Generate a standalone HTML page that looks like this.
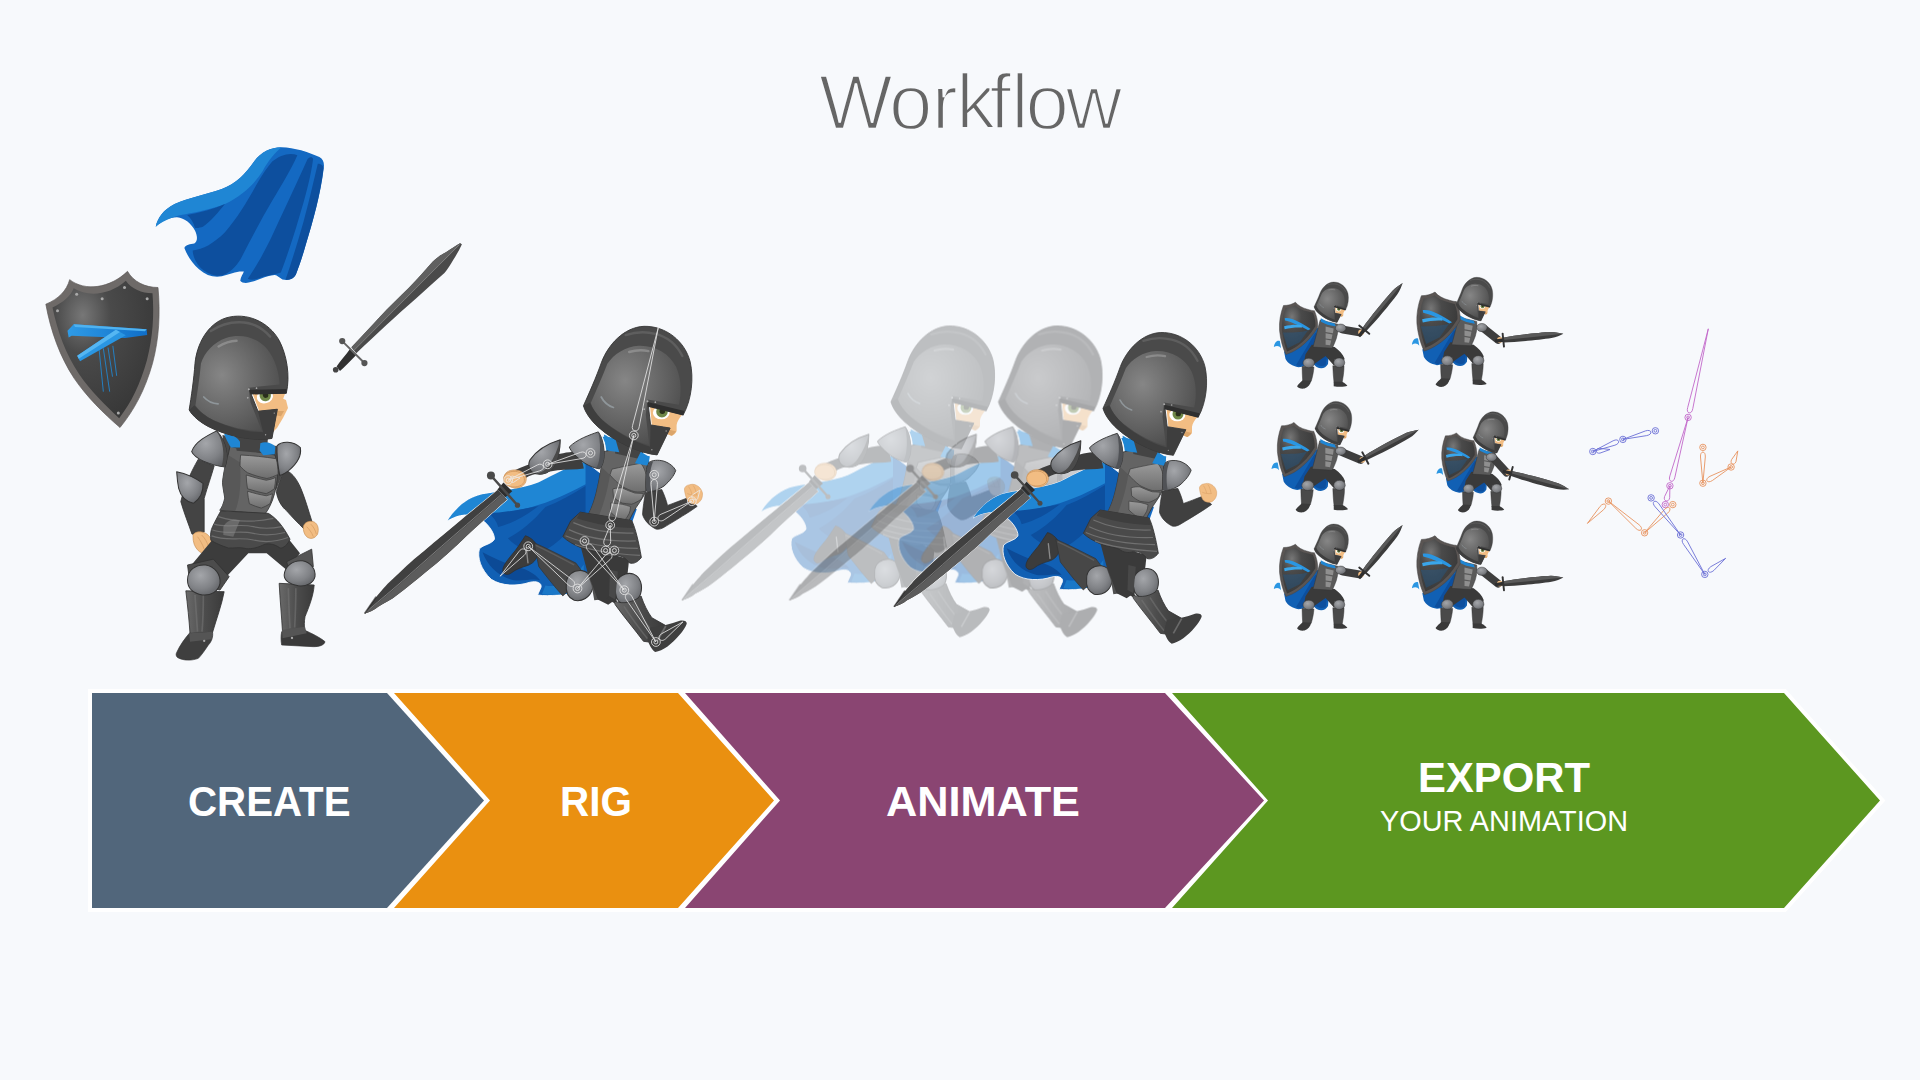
<!DOCTYPE html>
<html lang="en">
<head>
<meta charset="utf-8">
<title>Workflow</title>
<style>
html,body{margin:0;padding:0;width:1920px;height:1080px;overflow:hidden;background:#f7f9fc;}
svg{display:block;position:absolute;left:0;top:0;}
text{font-family:"Liberation Sans",sans-serif;}
.title{font-size:78px;fill:#666666;stroke:#f7f9fc;stroke-width:2.3px;}
.lbl{font-weight:bold;fill:#ffffff;font-size:42px;}
.sub{fill:#ffffff;font-size:29px;}
</style>
</head>
<body>
<svg width="1920" height="1080" viewBox="0 0 1920 1080">
<defs>
<linearGradient id="gBlade" x1="0" y1="0" x2="1" y2="0">
<stop offset="0" stop-color="#2c2c2c"/><stop offset="0.45" stop-color="#6a6a6a"/><stop offset="0.55" stop-color="#3a3a3a"/><stop offset="1" stop-color="#4e4e4e"/>
</linearGradient>
<radialGradient id="gDome" cx="0.38" cy="0.35" r="0.7">
<stop offset="0" stop-color="#868686"/><stop offset="0.5" stop-color="#6a6a6a"/><stop offset="1" stop-color="#4e4e4e"/>
</radialGradient>
<linearGradient id="gHelm" x1="0" y1="0" x2="1" y2="1">
<stop offset="0" stop-color="#555"/><stop offset="1" stop-color="#3c3c3c"/>
</linearGradient>
<radialGradient id="gPad" cx="0.4" cy="0.35" r="0.75">
<stop offset="0" stop-color="#a4a6aa"/><stop offset="0.6" stop-color="#808286"/><stop offset="1" stop-color="#5e6064"/>
</radialGradient>
<linearGradient id="gPlate" x1="0" y1="0" x2="0" y2="1">
<stop offset="0" stop-color="#9a9a9a"/><stop offset="1" stop-color="#6e6e6e"/>
</linearGradient>
<linearGradient id="gShin" x1="0" y1="0" x2="1" y2="0">
<stop offset="0" stop-color="#6a6a6a"/><stop offset="0.5" stop-color="#4c4c4c"/><stop offset="1" stop-color="#3a3a3a"/>
</linearGradient>
<radialGradient id="gShield" cx="0.3" cy="0.25" r="0.8">
<stop offset="0" stop-color="#777"/><stop offset="0.35" stop-color="#4a4a4a"/><stop offset="1" stop-color="#383838"/>
</radialGradient>
<linearGradient id="gEmb" x1="0" y1="0" x2="1" y2="0">
<stop offset="0" stop-color="#2f9be6"/><stop offset="1" stop-color="#0f6ec8"/>
</linearGradient>
<g id="head" transform="translate(1000 310) scale(0.166667)">
<path d="M1000,595 L1185,640 C1168,660 1155,680 1152,700 L1152,735 C1145,750 1135,760 1120,762 L1095,750 L1100,715 L1010,700 Z" fill="#f2bd83"/>
<path d="M1100,725 L1150,738 L1125,762 L1098,750 Z" fill="#dba56a"/>
<ellipse cx="1064" cy="630" rx="48" ry="38" fill="#fff"/>
<circle cx="1068" cy="624" r="33" fill="#6f8748"/>
<circle cx="1070" cy="622" r="16" fill="#2a2f1c"/>

<path d="M618,590 C650,520 690,430 722,340 C760,240 850,140 965,135 C1090,132 1200,220 1230,340 C1250,430 1240,550 1190,642 L990,590 L1003,700 L1115,718 L1040,872 C940,862 800,800 700,710 C660,672 630,632 618,590 Z" fill="#4a4a4a" stroke="#353535" stroke-width="5" stroke-linejoin="round"/>
<path d="M860,185 C920,165 980,165 1030,178 C1100,195 1155,245 1185,305" stroke="#666" stroke-width="14" fill="none" stroke-linecap="round" opacity="0.7"/>
<path d="M660,575 C690,505 725,430 755,350 C790,295 860,250 935,246 C1030,243 1110,290 1150,370 C1180,440 1180,520 1165,585 L985,555 L975,640 L995,815 C900,790 790,730 715,660 C690,635 670,605 660,575 Z" fill="url(#gDome)"/>
<path d="M618,590 L655,572 C670,610 700,650 740,685 C820,750 910,800 1000,825 L1003,700 L1115,718 L1040,872 C940,862 800,800 700,710 C660,672 630,632 618,590 Z" fill="#3e3e3e"/>
<path d="M985,568 L1197,620 L1190,646 L987,596 Z" fill="#2f2f2f"/>
<circle cx="985" cy="565" r="6" fill="#aaa"/><circle cx="1030" cy="570" r="5" fill="#aaa"/><circle cx="966" cy="610" r="5" fill="#aaa"/><circle cx="1092" cy="735" r="4" fill="#999"/><circle cx="1010" cy="842" r="4" fill="#999"/>
<path d="M720,540 C735,570 760,590 790,600" stroke="#8f969a" stroke-width="10" fill="none" stroke-linecap="round"/>
<path d="M880,282 C920,270 960,270 990,277" stroke="#a0a0a0" stroke-width="14" fill="none" stroke-linecap="round" opacity="0.6"/>
</g>
<g id="runKnight">
<!-- CAPE (frame S) -->
<g transform="translate(880 440) scale(0.166667)">
<path d="M1350,130 C1270,150 1180,200 1080,250 C980,290 860,295 760,318 C680,335 610,390 560,468 C600,440 670,420 730,445 C790,480 830,540 828,575 C810,605 765,605 742,630 C728,680 750,750 810,805 C870,845 960,845 1030,822 C1070,812 1100,825 1095,850 L1075,895 C1150,905 1230,895 1290,850 L1420,700 L1440,200 Z" fill="#1160b4" stroke="#fff" stroke-width="5"/>
<path d="M1350,130 C1270,150 1180,200 1080,250 C980,290 860,295 760,318 C680,335 610,390 560,468 C600,440 670,420 730,445 C800,440 900,420 1000,400 C1100,380 1220,330 1350,260 Z" fill="#1f86d4"/>
<path d="M790,425 C860,425 930,412 1000,400 L1080,385 C1010,440 930,485 850,505 C840,470 820,445 790,425 Z" fill="#0d4f9e"/>
<path d="M1120,390 C1200,360 1270,320 1350,270 L1350,420 C1270,520 1190,600 1100,650 C1020,650 950,620 905,570 C990,525 1060,460 1120,390 Z" fill="#0d4f9e"/>
<path d="M760,650 C790,730 850,790 940,810 C1000,815 1050,800 1090,810 C1060,770 1000,740 940,730 C880,710 820,680 760,650 Z" fill="#0c4a96"/>
<path d="M1120,840 C1160,850 1220,840 1280,800 L1340,720 L1340,860 C1280,890 1190,900 1100,890 Z" fill="#1a78c8"/>
</g>
<g transform="translate(1000 390) scale(0.166667)">
<path d="M735,275 C770,290 800,320 815,350 L835,420 L760,440 Z" fill="#1f86d4"/>
<path d="M920,405 L997,398 L990,475 L930,455 Z" fill="#1f86d4"/>
<path d="M885,690 L918,630 L908,720 L885,800 L850,800 Z" fill="#1160b4"/>
</g>
<!-- BACK ARM (frame T) -->
<g transform="translate(1000 390) scale(0.166667)">
<path d="M600,375 C540,370 480,385 440,400 L330,440 C280,455 230,475 195,495 L255,545 C290,520 320,505 350,500 L470,480 C520,475 570,478 620,470 Z" fill="#3e3e3e"/>
<path d="M165,525 C160,495 190,478 225,478 C255,478 285,495 290,525 C292,555 270,578 235,582 C200,584 170,560 165,525 Z" fill="#f2bd83" stroke="#c98f55" stroke-width="4"/>
<path d="M485,305 C420,325 350,365 312,420 C295,455 310,490 345,500 C390,510 430,490 450,455 C475,410 485,360 485,305 Z" fill="url(#gPad)" stroke="#333" stroke-width="6" stroke-linejoin="round"/>
<path d="M485,305 C470,360 450,410 420,450 C405,475 380,495 345,500 C390,510 430,490 450,455 C475,410 485,360 485,305 Z" fill="#4a4a4a"/>
</g>
<!-- SWORD (frame S) -->
<g transform="translate(880 440) scale(0.166667)">
<path d="M847,292 C780,350 690,420 606,490 C520,560 440,630 367,690 C310,740 260,790 215,832 C180,870 150,905 133,929 C110,960 95,985 82,1002 C110,995 140,980 162,962 C200,940 240,920 270,895 C330,850 380,810 433,765 C520,695 600,625 666,558 C750,480 830,410 900,348 Z" fill="#3a3a3a" stroke="#fff" stroke-width="6"/>
<path d="M847,292 C780,350 690,420 606,490 C520,560 440,630 367,690 C310,740 260,790 215,832 C180,870 150,905 133,929 C110,960 95,985 82,1002 C110,995 140,980 162,962 C200,940 240,920 270,895 C330,850 380,810 433,765 C520,695 600,625 666,558 C750,480 830,410 900,348 Z" fill="#404040"/>
<path d="M872,320 C700,470 500,640 300,820 C220,890 140,955 82,1002 C110,995 140,980 162,962 C200,940 240,920 270,895 C330,850 380,810 433,765 C520,695 600,625 666,558 C750,480 830,410 900,348 Z" fill="#5c5c5c"/>
<path d="M868,318 C700,465 500,635 300,815 C220,885 140,950 88,996" stroke="#858585" stroke-width="5" fill="none"/>
<path d="M150,905 C130,935 105,970 84,1000" stroke="#222" stroke-width="10" fill="none" opacity="0.6"/>
<path d="M880,250 L930,300 L890,335 L845,290 Z" fill="#2e2e2e"/>
<path d="M808,210 L960,380" stroke="#4a4a4a" stroke-width="14" stroke-linecap="round" fill="none"/>
<circle cx="808" cy="210" r="23" fill="#4a4a4a"/>
<circle cx="960" cy="380" r="15" fill="#4a4a4a"/>
<path d="M880,225 C885,195 925,180 960,188 C990,196 1005,220 998,248 C985,275 940,282 908,270 C890,260 878,245 880,225 Z" fill="#f2bd83" stroke="#c98f55" stroke-width="4"/>
</g>
<!-- BACK LEG (frame L) -->
<g transform="translate(1000 500) scale(0.166667)">
<path d="M285,195 C320,205 350,235 358,270 C362,315 340,350 300,365 C268,375 232,385 202,410 C185,422 162,418 156,400 C152,375 176,342 206,306 C238,270 262,230 285,195 Z" fill="#3c3c3c" stroke="#2e2e2e" stroke-width="4"/>
<path d="M290,262 L300,350" stroke="#8a8a8a" stroke-width="8" stroke-linecap="round"/>
<path d="M335,235 C420,272 500,315 575,352 L625,420 L500,540 C445,480 400,420 362,372 Z" fill="#474747" stroke="#333" stroke-width="4" stroke-linejoin="round"/>
<path d="M345,250 C420,285 495,325 565,362" stroke="#6a6a6a" stroke-width="8" fill="none" opacity="0.6"/>
<path d="M520,470 C520,420 560,390 610,395 C660,405 680,450 670,500 C655,550 610,575 565,565 C530,550 515,515 520,470 Z" fill="url(#gPad)" stroke="#333" stroke-width="6"/>
<path d="M640,410 L700,470 L720,560 L680,565 L665,480 Z" fill="#505050"/>
</g>
<!-- TORSO (frame Q 9x) -->
<g transform="translate(1080 430) scale(0.111111)">
<path d="M640,680 L665,695 L605,865 L555,850 Z" fill="#1469c2"/>
<path d="M380,200 L520,170 L700,230 L765,265 C750,320 745,400 742,540 C730,580 700,620 660,680 C630,730 600,790 565,860 L245,745 C270,700 295,640 315,560 C335,480 350,400 360,330 Z" fill="#646464" stroke="#333" stroke-width="7" stroke-linejoin="round"/>
<path d="M360,330 C350,400 335,480 315,560 C295,640 270,700 245,745 L330,775 C370,680 410,560 435,400 Z" fill="#555" opacity="0.8"/>
<path d="M435,400 L452,350 C520,335 610,315 700,300 C725,330 742,370 745,400 L742,540 C710,548 680,548 650,545 C610,535 570,515 540,500 C500,470 465,435 435,400 Z" fill="url(#gPlate)" stroke="#3c3c3c" stroke-width="6" stroke-linejoin="round"/>
<path d="M460,520 C490,512 515,510 540,512 C580,530 615,545 650,556 L722,560 C718,580 710,598 700,612 C670,630 645,645 620,652 C590,650 565,645 540,642 C510,628 485,610 465,592 Z" fill="url(#gPlate)" stroke="#3c3c3c" stroke-width="6" stroke-linejoin="round"/>
<path d="M440,640 C475,645 510,648 540,652 C565,658 590,665 612,672 C612,695 606,715 600,732 C588,755 575,775 560,792 C538,788 518,780 500,772 C478,755 458,738 440,720 Z" fill="url(#gPlate)" stroke="#3c3c3c" stroke-width="6" stroke-linejoin="round"/>
<path d="M470,90 L730,190 L690,262 L480,215 Z" fill="#444"/>
<path d="M372,72 C410,70 450,75 480,85 L515,205 L420,192 Z" fill="#1f86d4"/>
<path d="M700,200 L775,245 L762,322 L650,300 Z" fill="#1f86d4"/>
</g>
<!-- SKIRT + FRONT LEG (frame L) -->
<g transform="translate(1000 500) scale(0.166667)">
<path d="M600,250 L880,330 L870,420 L830,540 L760,590 L700,560 L640,400 Z" fill="#3a3a3a"/>
<path d="M600,60 L895,108 C915,150 935,230 950,320 C930,345 905,360 880,350 C860,320 830,305 800,310 C770,320 740,315 715,295 C680,280 640,280 600,262 C560,245 525,225 500,200 C515,170 530,140 545,110 Z" fill="#4a4a4a" stroke="#333" stroke-width="5"/>
<path d="M560,120 C650,160 760,185 905,180 M535,160 C630,205 760,230 918,225 M515,195 C620,240 760,265 930,268 M570,245 C660,280 780,298 942,308" stroke="#707070" stroke-width="7" fill="none"/>
<path d="M600,60 L895,108 L905,150 C800,150 690,130 580,95 Z" fill="#3e3e3e"/>
<path d="M800,480 C810,430 860,400 905,415 C945,430 960,480 945,530 C925,575 880,595 840,585 C810,570 795,530 800,480 Z" fill="url(#gPad)" stroke="#333" stroke-width="6"/>
<path d="M750,555 L805,520 L810,590 Z" fill="#3a3a3a"/>
<path d="M770,390 L815,400 L800,560 L765,540 Z" fill="#484848"/>
<path d="M795,570 C850,590 905,575 948,540 C965,590 985,630 1010,665 L1090,710 L1000,805 L962,800 C910,730 850,660 800,590 Z" fill="url(#gShin)" stroke="#333" stroke-width="5"/>
<path d="M850,600 C890,660 940,730 985,785 M900,585 C935,640 975,700 1020,750" stroke="#777" stroke-width="9" fill="none" opacity="0.5"/>
<path d="M1000,720 C1060,715 1120,700 1170,682 C1195,678 1212,685 1210,700 C1195,740 1150,790 1100,830 C1075,848 1050,858 1030,862 C1010,850 995,820 985,790 Z" fill="#3f3f3f"/>
<path d="M1040,800 L1090,712" stroke="#6a6a6a" stroke-width="10" fill="none"/>
</g>
<use href="#head"/>
<!-- FRONT SHOULDER + ARM (frame Q 9x) -->
<g transform="translate(1080 430) scale(0.111111)">
<path d="M335,30 C260,55 150,95 85,160 C100,200 150,250 220,300 C260,325 300,340 345,348 C375,320 388,260 385,200 C380,130 365,70 335,30 Z" fill="url(#gPad)" stroke="#333" stroke-width="8" stroke-linejoin="round"/>
<path d="M335,30 C350,100 355,180 345,250 C340,290 330,320 318,342 L345,348 C375,320 388,260 385,200 C380,130 365,70 335,30 Z" fill="#505256"/>
<path d="M740,550 C730,610 718,680 715,740 C730,790 770,835 830,865 C855,870 880,862 900,850 C960,815 1040,765 1120,715 L1185,670 L1100,598 C1040,620 985,642 930,662 C920,620 900,565 880,525 Z" fill="#404040" stroke="#303030" stroke-width="6" stroke-linejoin="round"/>
<path d="M770,292 C800,272 850,268 900,282 C950,300 985,330 1000,362 C985,410 950,450 900,495 C860,522 820,538 790,542 L750,540 C742,490 745,430 748,380 C752,345 760,315 770,292 Z" fill="url(#gPad)" stroke="#333" stroke-width="8" stroke-linejoin="round"/>
<path d="M770,292 C760,315 752,345 748,380 C745,430 742,490 750,540 L790,542 C780,500 778,450 780,400 C782,360 790,325 805,285 Z" fill="#505256"/>
<path d="M1075,520 C1080,500 1095,488 1115,486 C1135,478 1160,478 1180,490 C1205,500 1222,525 1230,555 C1232,585 1225,610 1210,625 C1195,645 1175,652 1155,650 C1135,648 1115,640 1105,625 C1090,600 1078,560 1075,520 Z" fill="#f2bd83" stroke="#d9a066" stroke-width="5"/>
<path d="M1110,500 C1125,520 1135,545 1140,570 M1150,490 C1165,510 1175,540 1180,570 M1100,560 C1120,570 1150,575 1185,572" stroke="#d9a066" stroke-width="5" fill="none"/>
</g>
</g>
<g id="fSword">
<path d="M-70,-12 L0,-16 L0,16 L-70,12 Z" fill="#2e2e2e"/>
<path d="M0,-20 C120,-30 300,-30 400,-25 C440,-20 475,-8 502,0 C475,10 440,22 400,25 C300,30 120,30 0,20 Z" fill="#3c3c3c"/>
<path d="M0,-20 C120,-30 300,-30 400,-25 C440,-20 475,-8 502,0 L0,0 Z" fill="#5a5a5a"/>
<path d="M0,-54 L0,54" stroke="#333" stroke-width="16" stroke-linecap="round"/>
</g>
<g id="fLower" transform="translate(1260 270) scale(0.12039)">
<path d="M115,640 C120,605 140,580 165,590 L175,650 C160,630 140,625 115,640 Z" fill="#2a96e2"/>
<path d="M200,680 L480,480 L575,640 L565,780 C545,815 510,825 470,805 C450,790 435,770 425,760 C400,785 360,805 320,808 C270,800 230,775 212,740 Z" fill="#1160b4"/>
<path d="M460,520 L500,560 L400,760 L330,800 L300,790 Z" fill="#0d4f9e"/>
<path d="M440,760 C470,790 510,810 545,790 L560,700 L470,720 Z" fill="#0d4f9e"/>
<path d="M430,620 L620,640 C660,670 690,700 702,735 L690,800 L610,790 L545,715 L450,780 L365,770 L378,700 Z" fill="#3a3a3a"/>
<path d="M350,800 L448,805 C445,850 435,890 425,925 L355,925 C352,885 350,845 350,800 Z" fill="#4a4a4a" stroke="#333" stroke-width="4"/>
<path d="M355,915 L425,920 C420,950 400,975 370,985 C340,990 315,980 308,965 C320,945 340,930 355,915 Z" fill="#3a3a3a"/>
<ellipse cx="405" cy="772" rx="48" ry="40" fill="url(#gPad)" stroke="#333" stroke-width="4"/>
<path d="M605,795 L698,795 C698,845 690,890 682,935 L615,935 C610,890 606,845 605,795 Z" fill="#4a4a4a" stroke="#333" stroke-width="4"/>
<path d="M612,928 L682,928 C705,940 722,952 726,962 C700,972 650,972 612,965 Z" fill="#3a3a3a"/>
<ellipse cx="658" cy="770" rx="46" ry="40" fill="url(#gPad)" stroke="#333" stroke-width="4"/>
<path d="M500,415 L645,450 C652,500 642,560 618,610 L600,650 L440,640 C460,570 480,490 500,415 Z" fill="#5a5a5a" stroke="#333" stroke-width="4"/>
<path d="M545,470 L612,485 L606,525 L545,515 Z M545,525 L602,535 L594,575 L545,568 Z M545,578 L592,585 L582,625 L545,620 Z" fill="#8f8f8f"/>
<path d="M505,400 L560,430 L620,445 L630,470 L560,455 L505,430 Z" fill="#1f86d4"/>
</g>
<g id="fShield" transform="translate(1260 270) scale(0.12039)">
<path d="M195,295 C230,295 270,285 295,268 C315,295 350,315 400,328 C420,335 440,338 452,338 C470,380 482,430 480,475 C440,545 380,610 320,650 C285,675 250,690 215,702 C190,650 170,580 162,500 C158,430 170,360 195,295 Z" fill="#5a5553" stroke="#444" stroke-width="4"/>
<path d="M212,315 C240,315 270,305 292,292 C315,315 350,333 400,345 L440,355 C455,390 462,430 460,468 C420,535 370,590 310,632 C280,652 250,668 225,678 C205,630 190,570 182,500 C178,435 190,370 212,315 Z" fill="url(#gShield)"/>
<path d="M205,400 C240,395 280,410 310,425 C350,445 390,468 420,490 L400,500 C365,480 325,460 290,448 C260,435 235,425 208,420 Z" fill="#2a96e2"/>
<path d="M200,468 C250,455 300,452 345,458 L350,478 C300,475 250,480 205,492 Z" fill="#3aa6ea"/>
<path d="M190,520 C260,520 340,520 400,500 L330,600 L230,650 Z" fill="#1a5f9c" opacity="0.35"/>
</g>
<g id="fPad" transform="translate(1260 270) scale(0.12039)">
<ellipse cx="662" cy="478" rx="42" ry="32" fill="url(#gPad)" stroke="#333" stroke-width="4"/>
</g>

</defs>
<rect width="1920" height="1080" fill="#f7f9fc"/>
<text class="title" x="819 889 931.7 956.2 989.5 1011.3 1025.6 1065.7" y="129.4">Workflow</text>
<g id="arrows-outline" stroke="#ffffff" stroke-width="8" stroke-linejoin="miter" fill="#ffffff">
<polygon points="1172,693 1784,693 1880,800.5 1784,908 1172,908 1268,800.5"/>
<polygon points="685,693 1165,693 1264,800.5 1165,908 685,908 780,800.5"/>
<polygon points="394,693 678,693 774,800.5 678,908 394,908 490,800.5"/>
<polygon points="92,693 387,693 484,800.5 387,908 92,908"/>
</g>
<g id="arrows">
<polygon points="1172,693 1784,693 1880,800.5 1784,908 1172,908 1268,800.5" fill="#5c9720"/>
<polygon points="685,693 1165,693 1264,800.5 1165,908 685,908 780,800.5" fill="#8a4572"/>
<polygon points="394,693 678,693 774,800.5 678,908 394,908 490,800.5" fill="#ea9010"/>
<polygon points="92,693 387,693 484,800.5 387,908 92,908" fill="#51667b"/>
</g>
<g id="labels">
<text class="lbl" x="188" y="816" textLength="162.5" lengthAdjust="spacingAndGlyphs">CREATE</text>
<text class="lbl" x="560" y="816" textLength="72" lengthAdjust="spacingAndGlyphs">RIG</text>
<text class="lbl" x="886" y="816" textLength="194" lengthAdjust="spacingAndGlyphs">ANIMATE</text>
<text class="lbl" x="1418" y="792" textLength="172" lengthAdjust="spacingAndGlyphs">EXPORT</text>
<text class="sub" x="1380" y="831" textLength="248" lengthAdjust="spacingAndGlyphs">YOUR ANIMATION</text>
</g>
<g id="create">
<g id="capeC" transform="translate(140 130) scale(0.15736)">
<path d="M100,615 C110,560 150,505 220,470 C310,430 420,410 520,375 C610,340 670,280 725,200 C770,140 830,110 900,110 C980,112 1070,140 1140,172 C1165,185 1172,210 1168,240 C1150,400 1100,580 1050,740 C1030,810 1010,870 990,920 C975,950 940,958 905,950 C885,940 870,920 855,922 C810,925 760,950 710,965 C680,975 650,975 637,958 C640,935 655,915 660,900 C620,895 570,915 520,930 C470,940 420,925 375,885 C335,850 300,800 282,750 C290,730 320,725 345,722 C365,710 368,680 350,640 C325,595 285,560 235,555 C185,555 135,580 100,615 Z" fill="#1469c2"/>
<path d="M100,615 C110,560 150,505 220,470 C310,430 420,410 520,375 C610,340 670,280 725,200 C770,140 830,110 900,110 C860,140 820,190 780,260 C730,340 650,420 540,470 C450,505 360,520 290,535 C240,540 150,570 100,615 Z" fill="#1f86d4"/>
<path d="M300,540 C380,525 470,500 540,470 C500,520 450,580 400,615 C385,620 365,625 350,622 C340,590 325,560 300,540 Z" fill="#0d4f9e"/>
<path d="M840,200 C890,160 950,140 1000,160 C960,250 900,350 840,450 C770,570 700,700 640,820 C610,870 570,910 520,925 C470,930 420,910 380,870 C350,835 335,795 335,765 C400,760 470,720 540,650 C620,560 690,440 750,330 C780,280 810,235 840,200 Z" fill="#0d4f9e"/>
<path d="M1065,185 C1080,170 1095,170 1100,185 C1085,300 1050,430 1010,560 C975,680 935,800 895,905 C870,915 830,920 790,930 C750,945 715,960 685,945 C730,880 790,780 850,650 C920,500 1000,330 1065,185 Z" fill="#0d4f9e"/>
<path d="M1130,215 C1150,215 1165,225 1166,245 C1148,400 1100,580 1050,740 C1030,810 1010,870 990,920 C975,945 950,955 925,950 C960,850 1000,720 1040,580 C1075,450 1105,320 1130,215 Z" fill="#0d4f9e"/>
</g>

<g id="shield" transform="translate(30 260) scale(0.166667)">
<path d="M95,265 C170,235 220,185 238,118 C330,190 480,170 585,68 C620,130 690,165 768,165 C782,320 775,470 735,620 C690,780 625,900 540,1005 C440,920 340,820 265,710 C180,580 125,430 95,265 Z" fill="#6e6a68" stroke="#5a5654" stroke-width="4"/>
<path d="M135,285 C200,255 245,215 262,170 C350,225 480,210 575,125 C610,175 670,200 735,200 C745,330 738,460 702,600 C660,750 610,850 535,950 C450,870 360,780 295,685 C215,565 165,430 135,285 Z" fill="url(#gShield)"/>
<circle cx="280" cy="205" r="9" fill="#aaa"/><circle cx="433" cy="232" r="9" fill="#aaa"/><circle cx="567" cy="165" r="9" fill="#aaa"/><circle cx="703" cy="232" r="9" fill="#aaa"/><circle cx="165" cy="305" r="9" fill="#aaa"/><circle cx="530" cy="918" r="9" fill="#aaa"/>
<path d="M415,540 L440,790 M440,530 L478,790 M468,525 L495,700 M497,515 L520,695" stroke="#1e8ad8" stroke-width="5" fill="none"/>
<path d="M225,425 L262,385 L700,415 L703,450 L570,468 L250,455 L232,465 Z" fill="url(#gEmb)"/>
<path d="M262,385 L700,415 L690,428 L270,402 Z" fill="#4fb2f0"/>
<path d="M515,418 L575,452 L300,607 L283,575 Z" fill="#2a96e2"/>
<path d="M515,418 L540,432 L292,592 L283,575 Z" fill="#55b6f2"/>
</g>

<g id="swordC" transform="translate(320 230) scale(0.148148)">
<path d="M212,792 C280,720 340,655 400,590 C470,515 540,450 600,390 C660,330 710,270 760,215 C790,185 820,165 850,150 C885,130 915,105 945,90 L958,96 C940,135 920,170 900,200 C880,235 860,265 840,290 C780,345 715,400 650,460 C580,520 515,580 450,640 C380,705 310,770 245,832 Z" fill="#4a4a4a"/>
<path d="M230,812 C380,660 600,440 800,240 C850,195 900,140 952,93 L945,90 C915,105 885,130 850,150 C820,165 790,185 760,215 C710,270 660,330 600,390 C540,450 470,515 400,590 C340,655 280,720 212,792 Z" fill="#606060"/>
<path d="M230,812 C380,660 600,440 800,240 L940,100" stroke="#8a8a8a" stroke-width="5" fill="none"/>
<path d="M112,922 C135,885 170,850 205,800 L248,840 C205,885 165,925 135,952 Z" fill="#303030"/>
<path d="M150,750 L300,898" stroke="#666" stroke-width="13" stroke-linecap="round" fill="none"/>
<circle cx="150" cy="750" r="21" fill="#555"/>
<circle cx="300" cy="898" r="21" fill="#555"/>
<circle cx="106" cy="943" r="19" fill="#444"/>
</g>

<g id="standKnight">
<!-- frame U: translate(140 420) scale(1/6) -->
<g transform="translate(140 420) scale(0.166667)">
<!-- right arm (behind torso) -->
<path d="M860,300 C900,300 940,350 965,410 C990,470 1010,540 1035,620 L985,655 C950,620 910,580 880,545 C850,520 825,480 818,430 Z" fill="#444" stroke="#333" stroke-width="5"/>
<path d="M980,640 C985,615 1015,600 1045,612 C1068,625 1075,655 1065,685 C1050,712 1020,718 1000,700 C985,685 978,662 980,640 Z" fill="#f2bd83" stroke="#c98f55" stroke-width="4"/>
<!-- left arm -->
<path d="M350,235 L445,275 C430,330 405,400 385,470 L385,672 L312,685 C290,620 265,560 245,490 C260,420 300,320 350,235 Z" fill="#444" stroke="#333" stroke-width="5"/>
<path d="M318,700 C315,680 340,668 370,672 C400,676 425,700 430,730 C432,765 410,795 375,800 C350,790 335,770 325,745 C320,730 318,715 318,700 Z" fill="#f2bd83" stroke="#c98f55" stroke-width="4"/>
<path d="M345,700 C360,720 375,745 385,775 M370,690 C390,710 405,735 412,765" stroke="#d9a066" stroke-width="5" fill="none"/>
<path d="M1000,640 C1015,655 1030,675 1040,700 M1025,625 C1040,640 1052,660 1058,685" stroke="#d9a066" stroke-width="5" fill="none"/>
<!-- legs upper -->
<path d="M470,660 L840,660 L905,730 L960,800 L880,900 L760,800 L650,800 L500,960 L300,880 L425,730 Z" fill="#3c3c3c"/>
<!-- torso -->
</g>
<g transform="translate(160 430) scale(0.125)">
<path d="M500,40 L940,130 L975,360 L930,480 L520,300 Z" fill="#484848"/>
<path d="M560,130 L640,150 L920,200 C935,250 940,300 940,350 C938,420 925,490 900,560 C885,600 865,640 840,672 L478,642 C495,620 508,590 518,545 C512,500 502,460 500,420 C505,360 520,280 545,200 Z" fill="#646464" stroke="#333" stroke-width="7" stroke-linejoin="round"/>
<path d="M545,200 C520,280 505,360 500,420 C502,460 512,500 518,545 C508,590 495,620 478,642 L600,652 C640,560 650,420 640,260 Z" fill="#555" opacity="0.8"/>
<path d="M645,200 C740,205 840,215 930,230 C940,270 945,310 945,355 C915,370 885,382 855,388 C800,378 750,362 700,342 C675,325 655,305 640,288 C640,258 642,228 645,200 Z" fill="url(#gPlate)" stroke="#3c3c3c" stroke-width="6" stroke-linejoin="round"/>
<path d="M690,360 C745,378 800,392 850,402 C878,398 902,390 925,380 C925,412 920,442 915,470 C895,486 872,500 850,510 C800,500 750,486 700,470 C694,435 690,398 690,360 Z" fill="url(#gPlate)" stroke="#3c3c3c" stroke-width="6" stroke-linejoin="round"/>
<path d="M700,490 C750,505 800,518 850,526 C868,522 885,516 900,510 C896,538 890,565 880,590 C858,604 835,616 810,625 C778,616 745,604 715,590 C708,558 703,525 700,490 Z" fill="url(#gPlate)" stroke="#3c3c3c" stroke-width="6" stroke-linejoin="round"/>
</g>
<g transform="translate(140 420) scale(0.166667)">
<!-- skirt -->
<path d="M485,545 L770,560 C820,590 860,640 900,715 C885,750 860,770 840,768 C810,745 775,740 750,745 C710,765 670,775 640,772 C600,760 560,770 530,768 C490,755 455,740 425,722 C420,690 425,660 435,640 C450,610 465,580 485,545 Z" fill="#4a4a4a" stroke="#333" stroke-width="5"/>
<path d="M470,580 C560,610 680,615 800,590 M445,625 C520,650 600,620 680,640 C740,655 800,650 850,640 M435,660 C520,690 600,660 680,680 C740,695 810,690 870,675 M430,695 C520,730 600,700 680,720 C740,735 820,730 888,705" stroke="#6e6e6e" stroke-width="7" fill="none"/>
<path d="M500,640 C520,600 560,590 600,600 L560,700 L500,690 Z" fill="#8a8a8a" opacity="0.5"/>
<!-- neck & collar -->
<path d="M560,60 L770,80 L760,200 L580,185 Z" fill="#444"/>
<path d="M505,85 C540,80 580,100 600,130 L600,165 L545,165 C530,140 515,110 505,85 Z" fill="#1f86d4"/>
<path d="M722,140 C750,125 790,135 812,160 L808,205 L740,212 L718,185 Z" fill="#1f86d4"/>
<!-- shoulder pads -->
<path d="M460,65 C400,95 330,130 310,190 C330,235 420,270 510,282 C535,220 520,130 460,65 Z" fill="url(#gPad)" stroke="#333" stroke-width="6" stroke-linejoin="round"/>
<path d="M460,65 C500,130 510,210 490,278 L510,282 C535,220 520,130 460,65 Z" fill="#4a4a4a"/>
<path d="M822,155 C850,125 920,125 962,165 C970,210 945,260 890,305 C870,320 850,330 838,332 C828,280 820,210 822,155 Z" fill="url(#gPad)" stroke="#333" stroke-width="6"/>
<!-- elbow pad -->
<path d="M220,310 C270,320 330,345 378,380 C380,430 360,475 320,500 C280,490 245,460 232,410 C225,375 222,340 220,310 Z" fill="url(#gPad)" stroke="#333" stroke-width="6" stroke-linejoin="round"/>
</g>
<!-- frame D: translate(140 500) scale(1/6) -->
<g transform="translate(140 500) scale(0.166667)">
<!-- left shin & boot -->
<path d="M220,915 C240,870 270,830 300,795 L435,790 C440,820 430,850 410,870 C390,900 370,930 350,950 C310,965 260,965 225,945 C215,935 215,925 220,915 Z" fill="#3f3f3f" stroke="#333" stroke-width="4"/>
<path d="M275,545 L505,550 C490,630 460,710 435,795 L300,800 C295,720 285,630 275,545 Z" fill="url(#gShin)" stroke="#333" stroke-width="5"/>
<path d="M330,570 C335,640 340,720 345,790 M380,570 C380,640 378,720 372,790" stroke="#777" stroke-width="10" fill="none" opacity="0.55"/>
<path d="M295,800 L435,790 L430,835 L300,850 Z" fill="#555"/>
<circle cx="385" cy="845" r="7" fill="#aaa"/>
<path d="M285,390 L440,355 L535,460 L480,540 L300,500 Z" fill="#4c4c4c" stroke="#333" stroke-width="5"/>
<path d="M285,480 C285,420 335,385 395,390 C450,400 485,445 480,500 C470,550 425,575 375,570 C320,560 285,530 285,480 Z" fill="url(#gPad)" stroke="#333" stroke-width="6"/>
<!-- right shin & boot -->
<path d="M850,790 L985,780 C1030,800 1080,825 1110,850 C1105,870 1080,880 1040,880 L850,870 C845,845 845,815 850,790 Z" fill="#3a3a3a" stroke="#333" stroke-width="4"/>
<path d="M835,500 L1045,510 C1040,580 1010,650 990,700 C985,730 985,755 988,785 L855,790 C850,700 840,600 835,500 Z" fill="url(#gShin)" stroke="#333" stroke-width="5"/>
<path d="M890,530 C892,600 895,690 900,770 M935,530 C935,600 932,690 928,765" stroke="#777" stroke-width="10" fill="none" opacity="0.55"/>
<path d="M852,780 L990,760 L1000,800 L855,830 Z" fill="#555"/>
<circle cx="912" cy="828" r="7" fill="#aaa"/>
<path d="M880,370 L1030,295 L1040,400 L900,450 Z" fill="#555" stroke="#333" stroke-width="5"/>
<path d="M865,450 C870,395 920,360 975,365 C1025,375 1055,415 1050,460 C1040,500 1000,520 950,515 C900,505 865,490 865,450 Z" fill="url(#gPad)" stroke="#333" stroke-width="6"/>
</g>
<path d="M279,397 L286,400 L288,408 L283,418 L277,428 L273,432 L270,428 Z" fill="#f2bd83"/>
<use href="#head" transform="translate(189.17 410) rotate(-15.15) scale(1.03 1.045) translate(-1103 -408.33)"/>
</g>

</g>
<g id="rig">
<use href="#runKnight" transform="translate(-571.4 -21.8) scale(1.047)"/>
<g id="rigSkel">
<g fill="none" stroke="#ececec" stroke-width="0.90" opacity="0.90">
<path d="M610.7,541.7 C610.2,548.3 602.1,546.8 604.0,540.4 L610.2,525.2 Z"/>
<circle cx="605.6" cy="550.5" r="4.4"/><circle cx="605.6" cy="550.5" r="2.0"/>
<path d="M615.9,516.8 C614.9,523.3 607.0,521.3 609.4,515.1 L633.8,435.4 Z"/>
<circle cx="610.2" cy="525.2" r="4.4"/><circle cx="610.2" cy="525.2" r="2.0"/>
<path d="M639.2,426.8 C638.4,433.4 630.5,431.6 632.6,425.3 L658.3,327.5 Z"/>
<circle cx="633.8" cy="435.4" r="4.4"/><circle cx="633.8" cy="435.4" r="2.0"/>
</g>
<g fill="none" stroke="#ececec" stroke-width="0.90" opacity="0.90">
<path d="M580.4,452.4 C586.6,450.1 588.6,457.5 582.0,458.5 L547.6,464.3 Z"/>
<circle cx="590.5" cy="453.0" r="4.4"/><circle cx="590.5" cy="453.0" r="2.0"/>
<path d="M537.5,464.9 C543.4,461.9 546.2,469.0 539.9,470.8 L508.2,480.1 Z"/>
<circle cx="547.6" cy="464.3" r="4.4"/><circle cx="547.6" cy="464.3" r="2.0"/>
<path d="M513.5,482.4 C510.3,483.6 509.0,476.1 512.4,476.1 L520.0,478.0 Z"/>
<circle cx="508.2" cy="480.1" r="4.4"/><circle cx="508.2" cy="480.1" r="2.0"/>
</g>
<g fill="none" stroke="#ececec" stroke-width="0.90" opacity="0.90">
<path d="M651.0,484.4 C650.4,477.8 658.0,477.8 657.4,484.4 L654.2,521.6 Z"/>
<circle cx="654.2" cy="474.8" r="4.4"/><circle cx="654.2" cy="474.8" r="2.0"/>
<path d="M664.2,519.8 C658.7,523.5 655.0,516.8 661.1,514.2 L691.8,501.2 Z"/>
<circle cx="654.2" cy="521.6" r="4.4"/><circle cx="654.2" cy="521.6" r="2.0"/>
<path d="M697.7,498.6 C695.9,502.1 689.7,497.5 692.5,494.8 L700.0,490.0 Z"/>
<circle cx="691.8" cy="501.2" r="4.4"/><circle cx="691.8" cy="501.2" r="2.0"/>
</g>
<g fill="none" stroke="#ececec" stroke-width="0.90" opacity="0.90">
<path d="M605.4,555.2 C609.6,550.0 615.1,555.3 610.0,559.6 L577.5,588.5 Z"/>
<circle cx="614.4" cy="550.5" r="4.4"/><circle cx="614.4" cy="550.5" r="2.0"/>
<path d="M572.3,579.8 C577.7,583.6 572.7,589.5 568.1,584.7 L528.2,546.3 Z"/>
<circle cx="577.5" cy="588.5" r="4.4"/><circle cx="577.5" cy="588.5" r="2.0"/>
<path d="M519.3,551.1 C523.3,545.9 528.9,551.1 524.0,555.5 L500.1,576.2 Z"/>
<circle cx="528.2" cy="546.3" r="4.4"/><circle cx="528.2" cy="546.3" r="2.0"/>
</g>
<g fill="none" stroke="#ececec" stroke-width="0.90" opacity="0.90">
<path d="M588.0,550.5 C583.4,545.7 589.4,540.9 593.0,546.5 L624.3,590.2 Z"/>
<circle cx="584.5" cy="541.0" r="4.4"/><circle cx="584.5" cy="541.0" r="2.0"/>
<path d="M626.6,600.1 C622.6,594.8 629.1,590.8 632.0,596.7 L655.9,642.0 Z"/>
<circle cx="624.3" cy="590.2" r="4.4"/><circle cx="624.3" cy="590.2" r="2.0"/>
<path d="M665.5,638.9 C660.6,643.3 656.0,637.1 661.7,633.7 L683.0,621.9 Z"/>
<circle cx="655.9" cy="642.0" r="4.4"/><circle cx="655.9" cy="642.0" r="2.0"/>
</g>
</g>

</g>
<g id="animate">
<use href="#runKnight" transform="translate(-212 -6.5)" opacity="0.33"/>
<use href="#runKnight" transform="translate(-104.5 -6.5)" opacity="0.40"/>
<use href="#runKnight"/>
</g>
<g id="export">
<g>
<use href="#fLower" transform="translate(0.00 0.00) translate(1320 335) scale(1.000) translate(-1320 -335)"/>
<use href="#fShield" transform="translate(0.00 0.00) translate(1320 335) scale(1.000) translate(-1320 -335)"/>
<use href="#head" transform="translate(1333.60 282.00) rotate(1.0) scale(0.3300) translate(-1160.8 -332.5)"/>
<g transform="translate(1260 270) scale(0.12039)">
<path d="M690,495 L825,518" stroke="#3e3e3e" stroke-width="66" stroke-linecap="round" fill="none"/>
<ellipse cx="670" cy="483" rx="44" ry="34" fill="url(#gPad)" stroke="#333" stroke-width="4"/>
<circle cx="840" cy="518" r="24" fill="#f2bd83"/>
<use href="#fSword" transform="translate(866 496) rotate(-50.5)"/>
</g>
</g>
<g>
<use href="#fLower" transform="translate(138.80 -2.60) translate(1320 335) scale(1.015) translate(-1320 -335)"/>
<use href="#fShield" transform="translate(1435.00 292.10) scale(1.130) translate(-1295.5 -302.3)"/>
<use href="#head" transform="translate(1476.50 277.30) rotate(0.0) scale(0.3550) translate(-1160.8 -332.5)"/>
<g transform="translate(1400 270) scale(0.12039)">
<path d="M700,490 L815,580" stroke="#3e3e3e" stroke-width="66" stroke-linecap="round" fill="none"/>
<ellipse cx="680" cy="478" rx="44" ry="34" fill="url(#gPad)" stroke="#333" stroke-width="4"/>
<circle cx="830" cy="580" r="24" fill="#f2bd83"/>
<use href="#fSword" transform="translate(858 582) rotate(-5.9)"/>
</g>
</g>
<g>
<use href="#fLower" transform="translate(-0.50 121.50) translate(1320 335) scale(1.040) translate(-1320 -335)"/>
<use href="#fShield" transform="translate(-0.50 121.50) translate(1320 335) scale(1.040) translate(-1320 -335)"/>
<use href="#head" transform="translate(1335.50 401.40) rotate(0.0) scale(0.3550) translate(-1160.8 -332.5)"/>
<g transform="translate(1260 390) scale(0.12039)">
<path d="M690,520 L835,580" stroke="#3e3e3e" stroke-width="66" stroke-linecap="round" fill="none"/>
<ellipse cx="670" cy="508" rx="44" ry="34" fill="url(#gPad)" stroke="#333" stroke-width="4"/>
<circle cx="850" cy="580" r="24" fill="#f2bd83"/>
<use href="#fSword" transform="translate(875 565) rotate(-28.0)"/>
</g>
</g>
<g>
<use href="#fLower" transform="translate(159.00 128.00) translate(1320 335) scale(0.920) translate(-1320 -335)"/>
<use href="#fShield" transform="translate(159.00 128.00) translate(1320 335) scale(0.920) translate(-1320 -335)"/>
<use href="#head" transform="translate(1492.70 411.70) rotate(0.0) scale(0.3370) translate(-1160.8 -332.5)"/>
<g transform="translate(1400 390) scale(0.12039)">
<path d="M780,570 L885,685" stroke="#3e3e3e" stroke-width="66" stroke-linecap="round" fill="none"/>
<ellipse cx="760" cy="558" rx="44" ry="34" fill="url(#gPad)" stroke="#333" stroke-width="4"/>
<circle cx="900" cy="685" r="24" fill="#f2bd83"/>
<use href="#fSword" transform="translate(922 692) rotate(15.4)"/>
</g>
</g>
<g>
<use href="#fLower" transform="translate(0.00 242.00) translate(1320 335) scale(1.000) translate(-1320 -335)"/>
<use href="#fShield" transform="translate(0.00 242.00) translate(1320 335) scale(1.000) translate(-1320 -335)"/>
<use href="#head" transform="translate(1333.60 524.00) rotate(1.0) scale(0.3300) translate(-1160.8 -332.5)"/>
<g transform="translate(1260 512) scale(0.12039)">
<path d="M690,495 L825,518" stroke="#3e3e3e" stroke-width="66" stroke-linecap="round" fill="none"/>
<ellipse cx="670" cy="483" rx="44" ry="34" fill="url(#gPad)" stroke="#333" stroke-width="4"/>
<circle cx="840" cy="518" r="24" fill="#f2bd83"/>
<use href="#fSword" transform="translate(866 496) rotate(-50.5)"/>
</g>
</g>
<g>
<use href="#fLower" transform="translate(138.80 241.10) translate(1320 335) scale(1.015) translate(-1320 -335)"/>
<use href="#fShield" transform="translate(1435.00 535.80) scale(1.130) translate(-1295.5 -302.3)"/>
<use href="#head" transform="translate(1476.50 521.00) rotate(0.0) scale(0.3550) translate(-1160.8 -332.5)"/>
<g transform="translate(1400 513.7) scale(0.12039)">
<path d="M700,490 L815,580" stroke="#3e3e3e" stroke-width="66" stroke-linecap="round" fill="none"/>
<ellipse cx="680" cy="478" rx="44" ry="34" fill="url(#gPad)" stroke="#333" stroke-width="4"/>
<circle cx="830" cy="580" r="24" fill="#f2bd83"/>
<use href="#fSword" transform="translate(858 582) rotate(-5.9)"/>
</g>
</g>
</g>

<g id="exSkel">
<g fill="none" stroke="#c268c9" stroke-width="0.90" opacity="1.00">
<path d="M1669.7,497.7 C1668.9,503.0 1662.8,501.5 1664.6,496.5 L1669.9,485.8 Z"/>
<circle cx="1665.3" cy="504.6" r="3.2"/><circle cx="1665.3" cy="504.6" r="1.4"/>
<path d="M1674.9,477.2 C1673.7,483.7 1667.7,482.1 1669.9,475.9 L1688.1,417.4 Z"/>
<circle cx="1669.9" cy="485.8" r="3.2"/><circle cx="1669.9" cy="485.8" r="1.4"/>
<path d="M1692.8,408.6 C1691.8,415.2 1685.7,413.8 1687.7,407.5 L1708.3,328.8 Z"/>
<circle cx="1688.1" cy="417.4" r="3.2"/><circle cx="1688.1" cy="417.4" r="1.4"/>
</g>
<g fill="none" stroke="#6b6fd6" stroke-width="0.90" opacity="1.00">
<path d="M1645.5,430.9 C1651.8,428.8 1653.2,434.4 1646.7,435.6 L1622.9,439.4 Z"/>
<circle cx="1655.4" cy="430.8" r="3.2"/><circle cx="1655.4" cy="430.8" r="1.4"/>
<path d="M1613.1,440.8 C1619.0,437.8 1621.2,443.2 1614.9,445.2 L1592.8,451.5 Z"/>
<circle cx="1622.9" cy="439.4" r="3.2"/><circle cx="1622.9" cy="439.4" r="1.4"/>
<path d="M1600.0,453.1 C1595.3,454.1 1594.6,448.4 1599.4,448.3 L1610.0,449.5 Z"/>
<circle cx="1592.8" cy="451.5" r="3.2"/><circle cx="1592.8" cy="451.5" r="1.4"/>
</g>
<g fill="none" stroke="#e8935f" stroke-width="0.90" opacity="1.00">
<path d="M1700.5,457.0 C1700.0,450.4 1705.8,450.4 1705.3,457.0 L1702.9,483.2 Z"/>
<circle cx="1702.9" cy="447.4" r="3.2"/><circle cx="1702.9" cy="447.4" r="1.4"/>
<path d="M1712.4,480.5 C1706.9,484.2 1704.1,479.2 1710.0,476.3 L1731.1,467.0 Z"/>
<circle cx="1702.9" cy="483.2" r="3.2"/><circle cx="1702.9" cy="483.2" r="1.4"/>
<path d="M1736.0,461.5 C1734.6,466.1 1729.3,463.9 1731.6,459.6 L1737.8,450.9 Z"/>
<circle cx="1731.1" cy="467.0" r="3.2"/><circle cx="1731.1" cy="467.0" r="1.4"/>
</g>
<g fill="none" stroke="#e8935f" stroke-width="0.90" opacity="1.00">
<path d="M1664.3,509.7 C1668.6,504.7 1672.7,508.8 1667.7,513.1 L1644.6,532.8 Z"/>
<circle cx="1672.8" cy="504.6" r="3.2"/><circle cx="1672.8" cy="504.6" r="1.4"/>
<path d="M1639.0,524.7 C1644.2,528.7 1640.4,533.0 1635.8,528.3 L1608.4,501.1 Z"/>
<circle cx="1644.6" cy="532.8" r="3.2"/><circle cx="1644.6" cy="532.8" r="1.4"/>
<path d="M1600.1,506.4 C1604.2,501.3 1608.4,505.3 1603.6,509.7 L1587.4,523.4 Z"/>
<circle cx="1608.4" cy="501.1" r="3.2"/><circle cx="1608.4" cy="501.1" r="1.4"/>
</g>
<g fill="none" stroke="#6b6fd6" stroke-width="0.90" opacity="1.00">
<path d="M1655.2,506.9 C1650.7,502.0 1655.2,498.5 1659.0,503.9 L1680.6,535.0 Z"/>
<circle cx="1651.1" cy="497.9" r="3.2"/><circle cx="1651.1" cy="497.9" r="1.4"/>
<path d="M1683.6,544.4 C1679.7,539.1 1684.6,536.0 1687.7,541.9 L1704.8,574.4 Z"/>
<circle cx="1680.6" cy="535.0" r="3.2"/><circle cx="1680.6" cy="535.0" r="1.4"/>
<path d="M1713.9,570.4 C1708.9,574.9 1705.4,570.3 1710.9,566.6 L1725.7,558.3 Z"/>
<circle cx="1704.8" cy="574.4" r="3.2"/><circle cx="1704.8" cy="574.4" r="1.4"/>
</g>
</g>


</svg>
</body>
</html>
